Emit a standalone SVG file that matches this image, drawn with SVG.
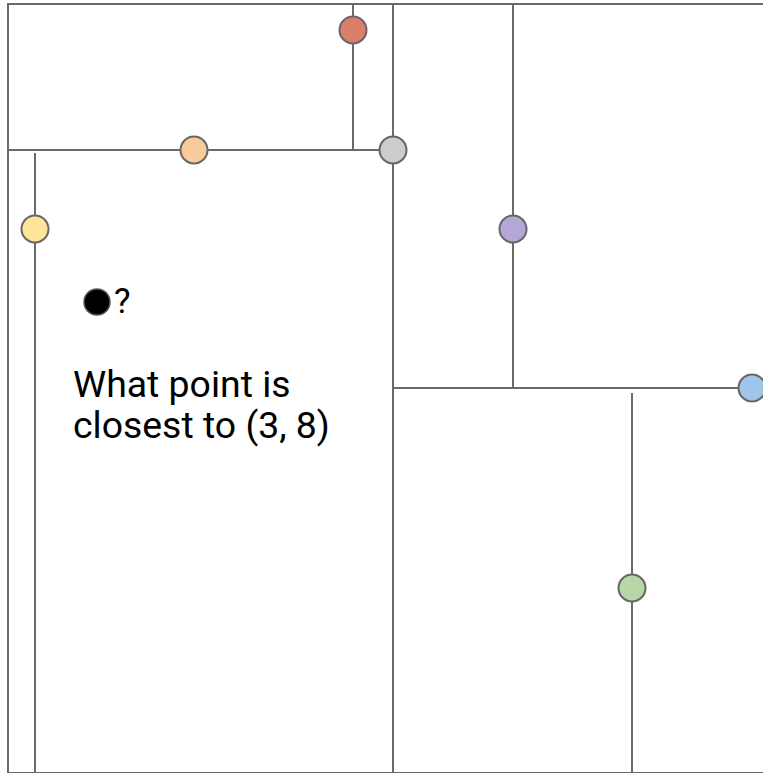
<svg xmlns="http://www.w3.org/2000/svg" width="763" height="773" viewBox="0 0 763 773">
<style>
.ln{stroke:#6b6b6b;stroke-width:2;fill:none}
.pt{stroke:#666666;stroke-width:2}
.txt{font-family:Roboto,"Liberation Sans",sans-serif;fill:#000000}
</style>
<rect width="763" height="773" fill="#ffffff"/>
<g id="connectors">
<rect class="ln" x="8" y="4" width="800" height="769"/>
<line class="ln" x1="8" y1="150" x2="393" y2="150"/>
<line class="ln" x1="353" y1="4" x2="353" y2="150"/>
<line class="ln" x1="393" y1="4" x2="393" y2="773"/>
<line class="ln" x1="35" y1="153" x2="35" y2="773"/>
<line class="ln" x1="513" y1="4" x2="513" y2="388"/>
<line class="ln" x1="393" y1="388" x2="752" y2="388"/>
<line class="ln" x1="632" y1="393" x2="632" y2="773"/>
</g>
<g id="red"><circle class="pt" cx="353" cy="30" r="13.5" fill="#dd7e6b"/></g>
<g id="orange"><circle class="pt" cx="194" cy="150" r="13.5" fill="#f9cb9c"/></g>
<g id="gray"><circle class="pt" cx="393" cy="150" r="13.5" fill="#cccccc"/></g>
<g id="yellow"><circle class="pt" cx="35" cy="229" r="13.5" fill="#ffe599"/></g>
<g id="purple"><circle class="pt" cx="513" cy="229" r="13.5" fill="#b4a7d6"/></g>
<g id="blue"><circle class="pt" cx="752" cy="388" r="13.5" fill="#9fc5e8"/></g>
<g id="green"><circle class="pt" cx="632" cy="588" r="13.5" fill="#b6d7a8"/></g>
<g id="query">
<circle cx="97" cy="302" r="13" fill="#000000" stroke="#555555" stroke-width="1.5"/>
<text class="txt" x="114" y="313" font-size="35">?</text>
</g>
<g id="question">
<text class="txt" x="73" y="397" font-size="37.4">What point is</text>
<text class="txt" x="73" y="438" font-size="37.4">closest to (3, 8)</text>
</g>
</svg>
